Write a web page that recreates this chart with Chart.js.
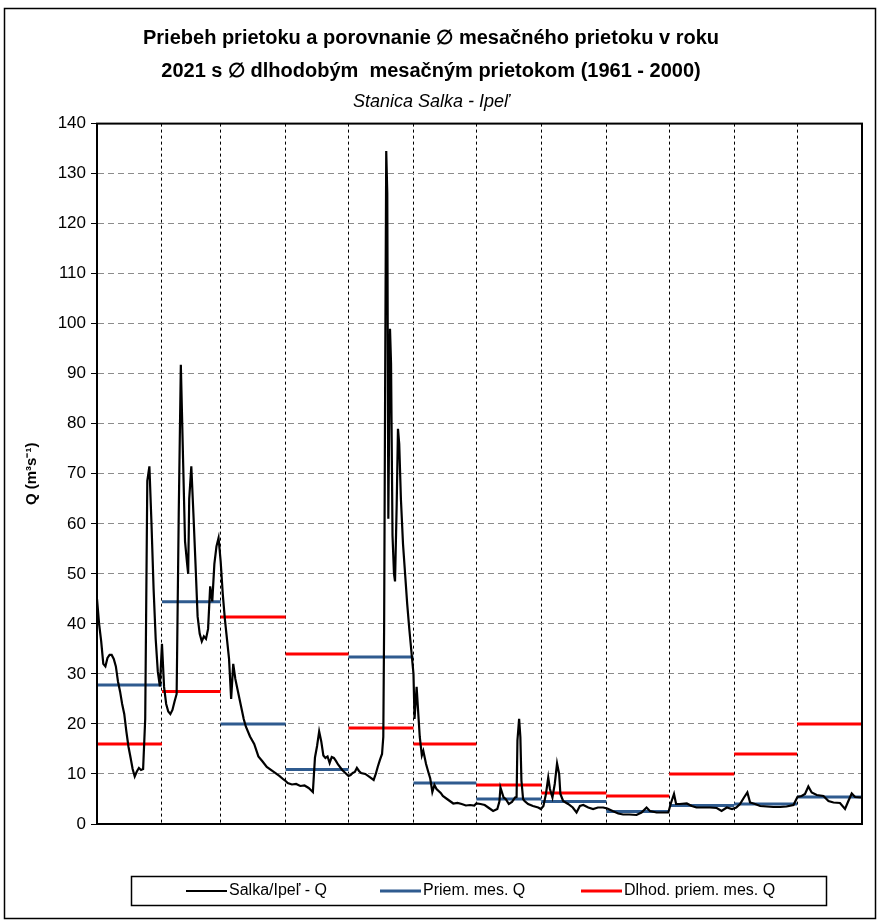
<!DOCTYPE html>
<html>
<head>
<meta charset="utf-8">
<script src="https://cdn.jsdelivr.net/npm/chart.js@4.4.0/dist/chart.umd.min.js"></script>
<style>
  html, body { margin: 0; padding: 0; background: #fff; }
  #wrap { position: relative; width: 880px; height: 921px; }
</style>
</head>
<body>
<div id="wrap"><canvas id="c" width="880" height="921"></canvas></div>
<script>
// dĺžky mesiacov 2021 (dni)
const monthLengths = [31, 28, 31, 30, 31, 30, 31, 31, 30, 31, 30, 31]
// priemerný mesačný prietok 2021
const monthAvg = [27.8, 44.4, 20.0, 10.9, 33.4, 8.2, 5.0, 4.5, 2.5, 3.7, 4.0, 5.4]
// dlhodobý priemerný mesačný prietok 1961 - 2000
const longTermAvg = [16.0, 26.5, 41.4, 34.0, 19.2, 16.0, 7.8, 6.2, 5.6, 10.0, 14.0, 20.0]
// os Y
const yMin = 0, yMax = 140, yStep = 10

// denný prietok: [deň v roku, Q]
const dailyFlow = [
  [0,45],[1,40],[2,36.5],[3,32],[4,31.5],[5,33.2],[6,33.8],[7,33.8],[8,33],[9,31.5],[10,28.5],
  [11,26.5],[12,24],[13,22],[14,18.5],[15,15.5],[16,13.3],[17,11],[18,9.5],[19,10.5],[20,11.2],
  [21,10.8],[22,11],[23,21],[24,68.6],[25,71.5],[26,60],[27,47],[28,37],[29,30.5],[30,27.5],
  [31,36],[32,27.4],
  [33,24],[34,22.5],[35,22],[36,22.8],[37,24.5],[38,26],[39,62],[40,91.8],[41,74],[42,56.5],
  [43,52],[43.5,50],[44,65],[45,71.5],[46,62],[47,52],[48,41.5],[49,38],[50,36.5],[51,37.5],
  [52,37],[53,39],[54,47.5],[55,44.5],[56,52],[57,55.5],[58,57.2],[59,52.5],
  [60,46],[61,41],[62,37],[63,33],[64,25],[65,32],[66,29],[67,27],[68,25],[69,23],[70,21],
  [71,19.5],[73,17.5],[75,16],[77,13.5],[79,12.5],[81,11.4],[84,10.5],[87,9.6],[89,8.9],
  [90,8.6],[91,8.2],[93,7.9],[95,8.0],[97,7.6],[99,7.7],[101,7.2],[102,6.8],[103,6.4],[104,13.3],
  [105,15.6],[106,18.5],[107,16.5],[108,13.7],[109,13.2],[110,13.5],[111,12.2],[112,13.4],
  [113,13.2],[114,12.6],[115,11.9],[117,10.8],[119,10],[120,9.6],
  [121,9.8],[122,10.2],[123,10.4],[124,11.2],[125,10.6],[126,10.2],[128,10],[130,9.4],[132,8.8],
  [133,10],[134,11.5],[135,12.8],[136,14],[136.6,17.4],[137,40],[137.5,90],[138,134.5],
  [138.5,126],[139,61],[139.8,99],[140.3,92],[141,57.6],[141.7,50],[142.2,48.5],[143,64],
  [143.6,79],[144.2,76],[145,65],[146,56],[147,50],[148,44],[149,39],[150,34.5],[151,30],
  [151.5,21],[152.5,27.4],[153.3,22],[154,17.4],[155,13.7],[155.7,14.6],[157,12],[158,10.5],
  [159,9.1],[160,6.4],[161,7.8],[162,7],[164,6.2],[165,5.6],[167,5],[169,4.4],[170,4.1],
  [172,4.2],[174,4],[176,3.7],[178,3.8],[180,3.7],
  [181,4.1],[183,4],[185,3.8],[187,3.2],[189,2.6],[191,3],[192,4.5],[192.5,7.3],[194,5.3],
  [195,5],[196.5,4],[198,4.4],[199.5,5.3],[200.2,5.4],[200.6,16.7],[201.4,21],[202,17.4],
  [202.5,8.7],[203.3,5],[204,4.6],[205.7,4],[208,3.6],[210.5,3.3],[211.8,3],
  [213,3.6],[214.2,6],[215.3,9.3],[216.1,7],[217.3,5.3],[218.4,8],[219.5,12.1],[220.5,10],
  [221.1,6],[222.4,4.6],[224.8,4],[227,3.3],[228.8,2.3],[230.4,3.6],[232,3.8],[234.4,3.3],
  [236.7,3],[239,3.3],[241.5,3.3],[243.5,3.1],
  [246,2.6],[248.7,2.1],[251,1.9],[254,1.9],[257.4,1.8],[259.8,2.3],[262.2,3.3],[263.8,2.6],
  [267,2.3],[270,2.3],[272.6,2.3],
  [273.7,4],[275.3,6],[276.3,4],[278,4],[281.4,4.1],[283.8,3.6],[286,3.3],[289,3.3],[292.5,3.3],
  [295.7,3.2],[298,2.6],[300.5,3.3],[303,3],
  [305,3.3],[306.8,4],[308.7,5.3],[310.3,6.3],[311.6,4.3],[314,4],[316.4,3.6],[319.5,3.5],
  [322.7,3.4],[326,3.4],[329,3.5],[332.3,3.8],
  [334.2,5.4],[336.2,5.6],[337.8,6],[339.4,7.5],[341,6.3],[343.4,5.8],[346.6,5.6],[349,4.6],
  [351.4,4.3],[354.5,4.2],[356.9,3],[358.5,4.6],[360.1,6.1],[361.7,5.4],[364.5,5.3]
]

const FONT = '"Liberation Sans", Arial, sans-serif'

// začiatky mesiacov (deň v roku)
const monthStarts = [0]
monthLengths.forEach((n, i) => monthStarts.push(monthStarts[i] + n))

// vodorovné úsečky pre mesačné priemery
function monthSegments(vals) {
  const pts = []
  vals.forEach((v, i) => {
    pts.push({ x: monthStarts[i], y: v }, { x: monthStarts[i + 1], y: v }, { x: monthStarts[i + 1], y: null })
  })
  return pts
}

// rámy a legenda v boxe
const framePlugin = {
  id: 'frame',
  afterDraw(chart) {
    const { ctx, chartArea: a } = chart
    ctx.save()
    // rám grafu
    ctx.strokeStyle = '#000'
    ctx.lineWidth = 2
    ctx.strokeRect(a.left, a.top, a.right - a.left, a.bottom - a.top)
    // vonkajší rám
    ctx.lineWidth = 1.5
    ctx.strokeRect(4.5, 8.5, 871, 910)
    // legenda
    ctx.lineWidth = 1.5
    ctx.strokeRect(131.5, 876.5, 695, 29)
    const xs = [186, 380, 581]
    const ly = 891
    chart.data.datasets.forEach((ds, i) => {
      ctx.strokeStyle = ds.borderColor
      ctx.lineWidth = ds.borderWidth
      ctx.beginPath()
      ctx.moveTo(xs[i], ly)
      ctx.lineTo(xs[i] + 41, ly)
      ctx.stroke()
      ctx.fillStyle = '#000'
      ctx.font = '16px ' + FONT
      ctx.textBaseline = 'middle'
      ctx.fillText(ds.label, xs[i] + 43, ly)
    })
    ctx.restore()
  }
}

new Chart(document.getElementById('c'), {
  type: 'line',
  data: {
    datasets: [
      {
        label: 'Salka/Ipeľ - Q',
        data: dailyFlow.map(([d, q]) => ({ x: d, y: q })),
        borderColor: '#000',
        borderWidth: 2.2,
        pointRadius: 0,
        tension: 0
      },
      {
        label: 'Priem. mes. Q',
        data: monthSegments(monthAvg),
        borderColor: '#2F5B8F',
        borderWidth: 3,
        pointRadius: 0,
        spanGaps: false
      },
      {
        label: 'Dlhod. priem. mes. Q',
        data: monthSegments(longTermAvg),
        borderColor: '#FF0000',
        borderWidth: 3,
        pointRadius: 0,
        spanGaps: false
      }
    ]
  },
  options: {
    responsive: false,
    animation: false,
    layout: { padding: { left: 0, right: 18, top: 0, bottom: 97 } },
    plugins: {
      legend: { display: false },
      tooltip: { enabled: false },
      title: {
        display: true,
        text: ['Priebeh prietoku a porovnanie \u2205 mesačného prietoku v roku',
               '2021 s \u2205 dlhodobým  mesačným prietokom (1961 - 2000)'],
        color: '#000',
        font: { family: FONT, size: 20, weight: 'bold', lineHeight: 1.65 },
        padding: { top: 22, bottom: 0 }
      },
      subtitle: {
        display: true,
        text: 'Stanica Salka - Ipeľ',
        color: '#000',
        font: { family: FONT, size: 18, style: 'italic' },
        padding: { top: 3, bottom: 11 }
      }
    },
    scales: {
      x: {
        type: 'linear',
        min: 0,
        max: 365,
        afterBuildTicks: s => { s.ticks = monthStarts.map(v => ({ value: v })) },
        afterFit: s => { s.height = 0 },
        ticks: { display: false },
        grid: { color: '#000', lineWidth: 1, drawTicks: false },
        border: { color: '#000', width: 2, dash: [3, 3] }
      },
      y: {
        min: yMin,
        max: yMax,
        afterFit: s => { s.width = 97 },
        ticks: { stepSize: yStep, color: '#000', font: { family: FONT, size: 17 }, padding: 5 },
        grid: { color: '#8c8c8c', lineWidth: 1, tickLength: 6, tickColor: '#000', tickBorderDash: [] },
        border: { color: '#000', width: 2, dash: [6, 4] },
        title: {
          display: true,
          text: 'Q (m³s⁻¹)',
          color: '#000',
          font: { family: FONT, size: 15, weight: 'bold' },
          padding: { top: 23, bottom: 0 }
        }
      }
    }
  },
  plugins: [framePlugin]
})
</script>
</body>
</html>
